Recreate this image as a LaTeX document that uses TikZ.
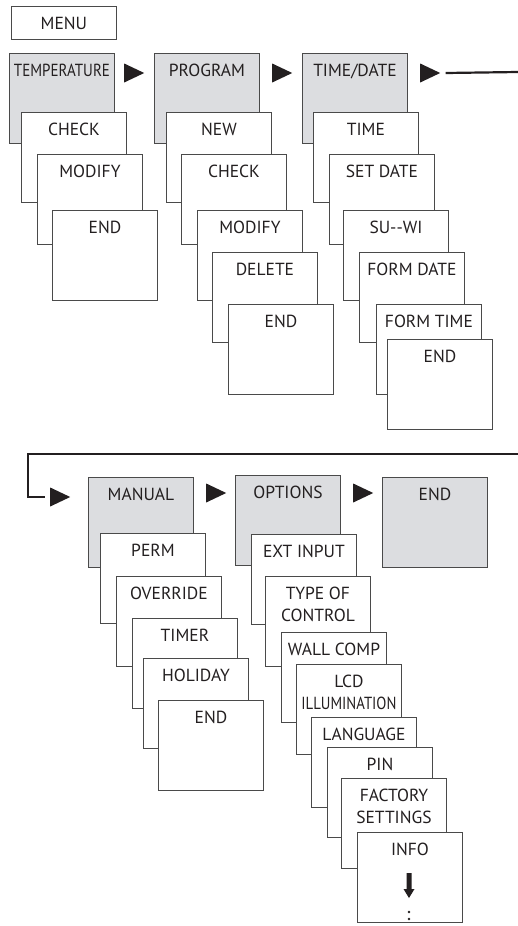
\documentclass[tikz,border=0pt]{standalone}
\usepackage{fontspec}
\usepackage{graphicx}
\setmainfont{PT Sans}
\usetikzlibrary{shapes.geometric}
\definecolor{boxc}{HTML}{4A4A4A}
\definecolor{grayf}{HTML}{DCDDE0}
\definecolor{ink}{HTML}{231F20}
\tikzset{
  bx/.style={draw=boxc, line width=0.9pt, fill=white, minimum width=105pt, minimum height=90pt, inner sep=0pt, anchor=north west},
  gb/.style={bx, fill=grayf},
  t/.style={anchor=base, yshift=-23.5pt, inner sep=0pt, text=ink, font=\fontsize{17.5}{20}\selectfont},
  tb/.style={t, yshift=-22pt},
  tri/.style={isosceles triangle, isosceles triangle stretches, fill=ink, minimum width=19pt, minimum height=20pt, inner sep=0pt, anchor=west},
  conn/.style={draw=ink, line width=2.2pt},
}
\begin{document}
\begin{tikzpicture}[x=1pt,y=-1pt]
\useasboundingbox (0,0) rectangle (518,926);
% MENU
\node[draw=boxc, line width=0.9pt, minimum width=105pt, minimum height=33pt, inner sep=0pt, anchor=north west, text=ink, font=\fontsize{17.5}{20}\selectfont] (menu) at (11,6) {MENU};
% TEMPERATURE column
\node[gb, label={[t]north:\resizebox{96pt}{\height}{TEMPERATURE}}] (temp) at (9,53) {};
\node[bx, label={[t]north:CHECK}] (tcheck) at (21,112) {};
\node[bx, label={[t]north:MODIFY}] (tmod) at (37,154) {};
\node[bx, label={[t]north:END}] (tend) at (52,210) {};
% PROGRAM column
\node[gb, label={[t]north:PROGRAM}] (prog) at (154,53) {};
\node[bx, label={[t]north:NEW}] (pnew) at (166,112) {};
\node[bx, label={[t]north:CHECK}] (pcheck) at (181,154) {};
\node[bx, label={[t]north:MODIFY}] (pmod) at (197,210) {};
\node[bx, label={[t]north:DELETE}] (pdel) at (212,252) {};
\node[bx, label={[t]north:END}] (pend) at (228,304) {};
% TIME/DATE column
\node[gb, label={[t]north:TIME/DATE}] (td) at (302,53) {};
\node[bx, label={[t]north:TIME}] (dtime) at (313,112) {};
\node[bx, label={[t]north:SET DATE}] (dset) at (329,154) {};
\node[bx, label={[t]north:SU-{}-WI}] (dsu) at (343,210) {};
\node[bx, label={[t]north:FORM DATE}] (dfd) at (359,252) {};
\node[bx, label={[t]north:FORM TIME}] (dft) at (376,304) {};
\node[bx, label={[t]north:END}] (dend) at (387,339) {};
% top arrows
\node[tri] (a1) at (124,73) {};
\node[tri] (a2) at (272,73) {};
\node[tri] (a3) at (420,73) {};
\coordinate (rt) at (518,72);
\draw[conn] ([xshift=5pt]a3.east) -- (rt);
% loop
\coordinate (rb) at (518,454);
\coordinate (c1) at (28,454);
\node[tri] (a4) at (50,497) {};
\draw[conn] (rb) -- (c1) |- ([xshift=-5pt]a4.west);
% MANUAL column
\node[gb, label={[t]north:MANUAL}] (man) at (88,477) {};
\node[bx, label={[t]north:PERM}] (mperm) at (100,533) {};
\node[bx, label={[t]north:OVERRIDE}] (mover) at (116,576) {};
\node[bx, label={[t]north:TIMER}] (mtimer) at (132,618) {};
\node[bx, label={[t]north:HOLIDAY}] (mhol) at (143,658) {};
\node[bx, label={[t]north:END}] (mend) at (158,700) {};
\node[tri] (a5) at (206,493) {};
% OPTIONS column
\node[gb, label={[t]north:OPTIONS}] (opt) at (235,475) {};
\node[bx, label={[t]north:EXT INPUT}] (oext) at (251,534) {};
\node[bx, label={[t]north:TYPE OF}, label={[tb]north:CONTROL}] (otype) at (265,576) {};
\node[bx, label={[t]north:WALL COMP}] (owall) at (281,632) {};
\node[bx, label={[t]north:LCD}, label={[tb]north:\resizebox{95pt}{\height}{ILLUMINATION}}] (olcd) at (296,664) {};
\node[bx, label={[t]north:LANGUAGE}] (olang) at (311,717) {};
\node[bx, label={[t]north:PIN}] (opin) at (327,747) {};
\node[bx, label={[t]north:FACTORY}, label={[tb]north:SETTINGS}] (ofact) at (341,778) {};
\node[bx, label={[t]north:INFO}] (oinfo) at (357,832) {};
\fill[ink] (406.5,873) -- (411.5,873) -- (411.5,889) -- (414.5,889) -- (409,898) -- (403.5,889) -- (406.5,889) -- cycle;
\fill[ink] (409,912) circle (1.4pt) (409,919) circle (1.4pt);
\node[tri] (a6) at (353,493) {};
% END
\node[gb, label={[t]north:END}] (fend) at (382,477) {};
\end{tikzpicture}
\end{document}
